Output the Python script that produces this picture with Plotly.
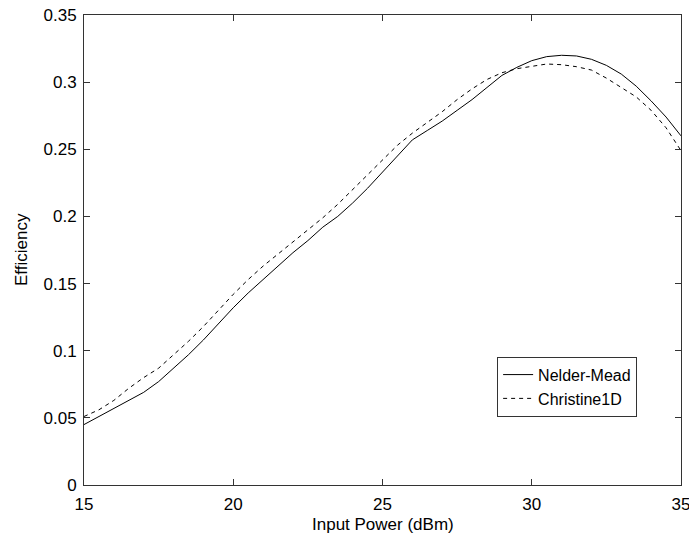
import plotly.graph_objects as go

x_vals = [15, 15.5, 16, 16.5, 17, 17.5, 18, 18.5, 19, 19.5, 20, 20.5, 21, 21.5, 22, 22.5,
          23, 23.5, 24, 24.5, 25, 25.5, 26, 26.5, 27, 27.5, 28, 28.5, 29, 29.5, 30, 30.5,
          31, 31.5, 32, 32.5, 33, 33.5, 34, 34.5, 35]

nelder_mead = [0.045, 0.051, 0.057, 0.063, 0.069, 0.077, 0.087, 0.097, 0.108, 0.120,
               0.132, 0.143, 0.153, 0.163, 0.173, 0.182, 0.192, 0.200, 0.210, 0.221,
               0.233, 0.245, 0.257, 0.264, 0.271, 0.279, 0.287, 0.296, 0.305, 0.311,
               0.316, 0.319, 0.320, 0.3195, 0.317, 0.3125, 0.306, 0.297, 0.286, 0.274, 0.260]

christine1d = [0.051, 0.056, 0.063, 0.072, 0.080, 0.087, 0.097, 0.107, 0.118, 0.130,
               0.142, 0.153, 0.163, 0.172, 0.181, 0.190, 0.199, 0.209, 0.220, 0.231,
               0.242, 0.253, 0.262, 0.270, 0.278, 0.287, 0.295, 0.302, 0.307, 0.310,
               0.312, 0.3135, 0.313, 0.3115, 0.309, 0.303, 0.296, 0.289, 0.279, 0.266, 0.249]

x_ticks = [15, 20, 25, 30, 35]
y_ticks = [0, 0.05, 0.1, 0.15, 0.2, 0.25, 0.3, 0.35]

font = dict(family="Liberation Sans, Arial, sans-serif", size=17, color="black")
legend_font = dict(family="Liberation Sans, Arial, sans-serif", size=16, color="black")

fig = go.Figure()
fig.add_trace(go.Scatter(x=x_vals, y=nelder_mead, mode="lines", name="Nelder-Mead",
                         line=dict(color="black", width=1)))
fig.add_trace(go.Scatter(x=x_vals, y=christine1d, mode="lines", name="Christine1D",
                         line=dict(color="black", width=1, dash="4px,4px")))

axis_common = dict(showline=True, linecolor="#333333", linewidth=1, mirror="ticks",
                   ticks="inside", ticklen=6, tickcolor="#333333", showgrid=False,
                   zeroline=False, tickfont=font, automargin=False,
                   ticklabeloverflow="allow")

fig.update_xaxes(range=[15, 35], tickvals=x_ticks, ticklabelstandoff=4, **axis_common)
fig.update_yaxes(range=[0, 0.35], tickvals=y_ticks, ticklabelstandoff=3, **axis_common)

fig.update_layout(
    width=689, height=537,
    margin=dict(l=84, r=8, t=15, b=52),
    paper_bgcolor="white", plot_bgcolor="white",
    font=font,
    showlegend=True,
    legend=dict(x=0.692, y=0.273, xanchor="left", yanchor="top",
                bordercolor="#333333", borderwidth=1, bgcolor="white",
                font=legend_font, tracegroupgap=0,
                entrywidth=125, entrywidthmode="pixels"),
    annotations=[
        dict(text="Input Power (dBm)", xref="paper", yref="paper", x=0.5, y=-0.083,
             xanchor="center", yanchor="middle", showarrow=False, font=font),
        dict(text="Efficiency", xref="paper", yref="paper", x=-0.1055, y=0.5,
             xanchor="center", yanchor="middle", textangle=-90, showarrow=False, font=font),
    ],
)

# Remove the default page margin so the figure fills the window exactly.
fig.write_html("out.html",
               config={"displayModeBar": False},
               post_script="document.body.style.margin='0';document.body.style.overflow='hidden';")
